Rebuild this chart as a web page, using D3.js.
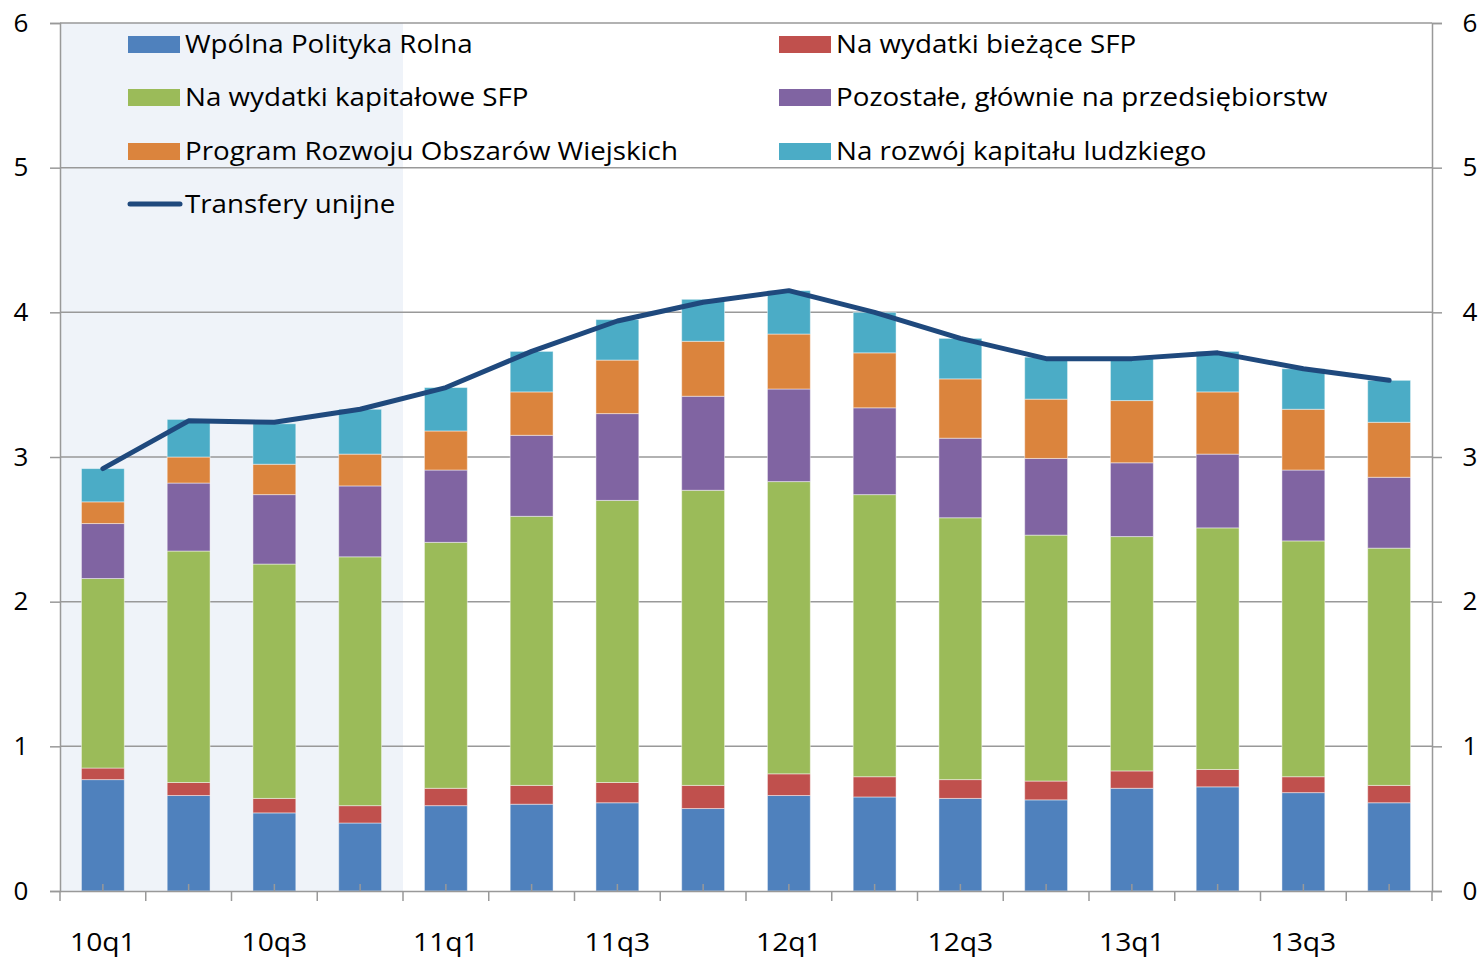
<!DOCTYPE html>
<html>
<head>
<meta charset="utf-8">
<script src="https://cdn.jsdelivr.net/npm/d3@7"></script>
<style>
  body { margin: 0; background: #fff; }
  text { font-family: "Open Sans", "Noto Sans", sans-serif; fill: #000; }
</style>
</head>
<body>
<div class="chart"></div>
<script>
// Quarters on the x axis
var quarters = ["10q1", "10q2", "10q3", "10q4", "11q1", "11q2", "11q3", "11q4",
                "12q1", "12q2", "12q3", "12q4", "13q1", "13q2", "13q3", "13q4"];
var tickLabels = ["10q1", "10q3", "11q1", "11q3", "12q1", "12q3", "13q1", "13q3"];
var shadedQuarters = ["10q1", "10q2", "10q3", "10q4"];

// Stacked components (bottom to top)
var wpr = [0.77, 0.66, 0.54, 0.47, 0.59, 0.60, 0.61, 0.57, 0.66, 0.65, 0.64, 0.63, 0.71, 0.72, 0.68, 0.61];
var biezace = [0.08, 0.09, 0.10, 0.12, 0.12, 0.13, 0.14, 0.16, 0.15, 0.14, 0.13, 0.13, 0.12, 0.12, 0.11, 0.12];
var kapitalowe = [1.31, 1.60, 1.62, 1.72, 1.70, 1.86, 1.95, 2.04, 2.02, 1.95, 1.81, 1.70, 1.62, 1.67, 1.63, 1.64];
var pozostale = [0.38, 0.47, 0.48, 0.49, 0.50, 0.56, 0.60, 0.65, 0.64, 0.60, 0.55, 0.53, 0.51, 0.51, 0.49, 0.49];
var prow = [0.15, 0.18, 0.21, 0.22, 0.27, 0.30, 0.37, 0.38, 0.38, 0.38, 0.41, 0.41, 0.43, 0.43, 0.42, 0.38];
var kapitalLudzki = [0.23, 0.26, 0.28, 0.31, 0.30, 0.28, 0.28, 0.29, 0.30, 0.28, 0.28, 0.29, 0.30, 0.28, 0.28, 0.29];

// Total EU transfers (line)
var transfery = [2.92, 3.25, 3.24, 3.33, 3.48, 3.73, 3.94, 4.07, 4.15, 4.00, 3.82, 3.68, 3.68, 3.72, 3.61, 3.53];

var seriesNames = ["Wpólna Polityka Rolna", "Na wydatki bieżące SFP", "Na wydatki kapitałowe SFP",
                   "Pozostałe, głównie na przedsiębiorstw", "Program Rozwoju Obszarów Wiejskich",
                   "Na rozwój kapitału ludzkiego"];
var seriesValues = [wpr, biezace, kapitalowe, pozostale, prow, kapitalLudzki];
var seriesColors = ["#4F81BD", "#C0504D", "#9BBB59", "#8064A2", "#DB843D", "#4BACC6"];
var lineName = "Transfery unijne";
var lineColor = "#1F497D";

// SVG area
var svgWidth = 1481;
var svgHeight = 957;
var margin = { top: 23, right: 49, bottom: 66, left: 60 };
var width = svgWidth - margin.left - margin.right;
var height = svgHeight - margin.top - margin.bottom;

var svg = d3.select(".chart")
  .append("svg")
  .attr("width", svgWidth)
  .attr("height", svgHeight);

var chartGroup = svg.append("g")
  .attr("transform", `translate(${margin.left}, ${margin.top})`);

// table for the stack
var table = quarters.map(function(q, i) {
  var row = { q: q };
  seriesNames.forEach(function(name, s) { row[name] = seriesValues[s][i]; });
  return row;
});
var stacked = d3.stack().keys(seriesNames)(table);

// Scales
var xScale = d3.scaleBand()
  .domain(quarters)
  .range([0, width])
  .paddingInner(0.5)
  .paddingOuter(0.25);

var yScale = d3.scaleLinear()
  .domain([0, 6])
  .range([height, 0]);

var gridColor = "#999999";

// shaded background for 2010
chartGroup.append("rect")
  .attr("x", 0)
  .attr("y", 0)
  .attr("width", xScale.step() * shadedQuarters.length)
  .attr("height", height)
  .attr("fill", "#EFF3F9");

// gridlines
chartGroup.append("g")
  .selectAll("line")
  .data(yScale.ticks(6).filter(d => d > 0))
  .enter()
  .append("line")
  .attr("x1", 0)
  .attr("x2", width)
  .attr("y1", d => yScale(d))
  .attr("y2", d => yScale(d))
  .attr("stroke", gridColor)
  .attr("stroke-width", 1.5);

// Bars
chartGroup.append("g")
  .selectAll("g")
  .data(stacked)
  .enter()
  .append("g")
  .attr("fill", (d, i) => seriesColors[i])
  .selectAll("rect")
  .data(d => d)
  .enter()
  .append("rect")
  .attr("x", d => xScale(d.data.q))
  .attr("y", d => yScale(d[1]))
  .attr("width", xScale.bandwidth())
  .attr("height", d => yScale(d[0]) - yScale(d[1]))
  .attr("stroke", "rgba(255,255,255,0.45)")
  .attr("stroke-width", 1);

// minor ticks at bar centres
chartGroup.append("g")
  .selectAll("line")
  .data(quarters)
  .enter()
  .append("line")
  .attr("x1", d => xScale(d) + xScale.bandwidth() / 2)
  .attr("x2", d => xScale(d) + xScale.bandwidth() / 2)
  .attr("y1", height)
  .attr("y2", height - 7)
  .attr("stroke", gridColor)
  .attr("stroke-width", 1.5);

// Line
var line = d3.line()
  .x((d, i) => xScale(quarters[i]) + xScale.bandwidth() / 2)
  .y(d => yScale(d));

chartGroup.append("path")
  .datum(transfery)
  .attr("d", line)
  .attr("fill", "none")
  .attr("stroke", lineColor)
  .attr("stroke-width", 5)
  .attr("stroke-linecap", "round")
  .attr("stroke-linejoin", "round");

// Axes
var leftAxis = d3.axisLeft(yScale).ticks(6).tickSize(10).tickPadding(22).tickFormat(d3.format("d"));
var rightAxis = d3.axisRight(yScale).ticks(6).tickSize(10).tickPadding(22).tickFormat(d3.format("d"));

function styleAxis(g) {
  g.select(".domain").attr("stroke", gridColor).attr("stroke-width", 1.5);
  g.selectAll(".tick line").attr("stroke", gridColor).attr("stroke-width", 1.5);
  g.selectAll(".tick text")
    .attr("font-size", 26)
    .attr("font-family", "'Open Sans', sans-serif")
    .attr("fill", "#000");
}

chartGroup.append("g")
  .call(leftAxis)
  .call(styleAxis)
  .selectAll(".tick text").attr("text-anchor", "middle").attr("x", -39);

chartGroup.append("g")
  .attr("transform", `translate(${width}, 0)`)
  .call(rightAxis)
  .call(styleAxis)
  .selectAll(".tick text").attr("text-anchor", "middle").attr("x", 38);

// x axis: category boundaries ticks
var bottomAxis = d3.axisBottom(xScale).tickSize(0).tickFormat(d => tickLabels.indexOf(d) >= 0 ? d : "");
var xAxisGroup = chartGroup.append("g")
  .attr("transform", `translate(0, ${height})`)
  .call(bottomAxis);
xAxisGroup.select(".domain").attr("stroke", gridColor).attr("stroke-width", 1.5);
xAxisGroup.selectAll(".tick text")
  .attr("font-size", 25)
  .attr("font-family", "'Open Sans', sans-serif")
  .attr("fill", "#000")
  .attr("y", 0)
  .attr("dy", "2.4em")
  .attr("transform", "scale(1.13,1)");

xAxisGroup.selectAll(".boundary")
  .data(d3.range(quarters.length + 1))
  .enter()
  .append("line")
  .attr("class", "boundary")
  .attr("x1", d => d * xScale.step())
  .attr("x2", d => d * xScale.step())
  .attr("y1", 0)
  .attr("y2", 10)
  .attr("stroke", gridColor)
  .attr("stroke-width", 1.5);

// Legend
var legendItems = seriesNames.map(function(name, i) {
  return { name: name, color: seriesColors[i], type: "bar" };
});
legendItems.push({ name: lineName, color: lineColor, type: "line" });

var legendCols = [68, 719];
var legendRows = [21, 74, 128, 181];

var legend = chartGroup.append("g");
var legendEntry = legend.selectAll("g")
  .data(legendItems)
  .enter()
  .append("g")
  .attr("transform", function(d, i) {
    var col = i < 6 ? i % 2 : 0;
    var row = i < 6 ? Math.floor(i / 2) : 3;
    return `translate(${legendCols[col]}, ${legendRows[row]})`;
  });

legendEntry.filter(d => d.type === "bar")
  .append("rect")
  .attr("x", 0)
  .attr("y", -8)
  .attr("width", 52)
  .attr("height", 17)
  .attr("fill", d => d.color);

legendEntry.filter(d => d.type === "line")
  .append("line")
  .attr("x1", 2)
  .attr("x2", 52)
  .attr("y1", 0)
  .attr("y2", 0)
  .attr("stroke", d => d.color)
  .attr("stroke-width", 5)
  .attr("stroke-linecap", "round");

legendEntry.append("text")
  .attr("transform", "translate(57,0) scale(1.11,1)")
  .attr("x", 0)
  .attr("y", 0)
  .attr("dy", "0.35em")
  .attr("font-size", 25)
  .text(d => d.name);
</script>
</body>
</html>
